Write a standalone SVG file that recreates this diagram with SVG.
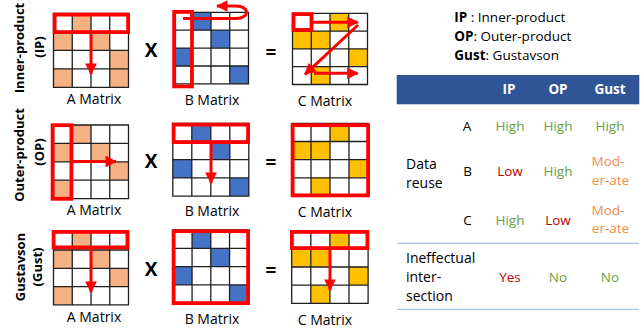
<svg xmlns="http://www.w3.org/2000/svg" xmlns:xlink="http://www.w3.org/1999/xlink" width="644" height="333" viewBox="0 0 644 333">
  <style>
    text { font-family: "Open Sans", "Liberation Sans", sans-serif; fill: #000; }
    .side { font-size: 13px; font-weight: bold; text-anchor: middle; }
    .op { font-size: 19px; font-weight: bold; text-anchor: middle; }
    .cap { font-size: 14px; text-anchor: middle; }
    .lg { font-size: 13.5px; }
    .b { font-weight: bold; }
    .th { font-size: 13.5px; font-weight: bold; fill: #fff; text-anchor: middle; }
    .td { font-size: 13.5px; text-anchor: middle; }
    .tl { font-size: 14px; }
    .hi { fill: #6a9e45; }
    .lo { fill: #c00000; }
    .md { fill: #f28c4c; }
    .bg { fill: #fff; }
    .o { fill: #f4b183; }
    .bl { fill: #4472c4; }
    .y { fill: #ffc000; }
    .grid { fill: none; stroke: #1f1f1f; stroke-width: 1.3; vector-effect: non-scaling-stroke; }
    .sel { fill: none; stroke: #ff0000; stroke-width: 3.8; }
    .arr { fill: none; stroke: #ff0000; stroke-width: 3; marker-end: url(#head); }
    .rule { stroke: #a9c5e3; stroke-width: 1.3; }
  </style>
  <defs>
    <marker id="head" viewBox="0 0 10 10" refX="9" refY="5" markerWidth="3.9" markerHeight="3.9" orient="auto">
      <path d="M0,0 L10,5 L0,10 Z" fill="#ff0000"/>
    </marker>
    <!-- 4x4 matrix in unit cells; scaled per placement -->
    <path id="gridlines" class="grid" d="M0,0H4V4H0Z M1,0V4 M2,0V4 M3,0V4 M0,1H4 M0,2H4 M0,3H4"/>
    <rect id="blank" class="bg" width="4" height="4"/>
    <g id="a-cells" class="o">
      <rect x="1" y="0" width="1" height="1"/>
      <rect x="0" y="1" width="1" height="1"/>
      <rect x="2" y="1" width="1" height="1"/>
      <rect x="3" y="2" width="1" height="1"/>
      <rect x="0" y="3" width="1" height="1"/>
    </g>
    <g id="b-cells" class="bl">
      <rect x="1" y="0" width="1" height="1"/>
      <rect x="2" y="1" width="1" height="1"/>
      <rect x="0" y="2" width="1" height="1"/>
      <rect x="3" y="3" width="1" height="1"/>
    </g>
    <g id="c-cells" class="y">
      <rect x="2" y="0" width="1" height="1"/>
      <rect x="0" y="1" width="1" height="1"/>
      <rect x="1" y="1" width="1" height="1"/>
      <rect x="3" y="2" width="1" height="1"/>
      <rect x="1" y="3" width="1" height="1"/>
    </g>
  </defs>

  <!-- row labels -->
  <g id="labels">
    <text class="side" transform="translate(24,48) rotate(-90)">Inner-product</text>
    <text class="side" transform="translate(43.5,47) rotate(-90)">(IP)</text>
    <text class="side" transform="translate(24,155) rotate(-90)">Outer-product</text>
    <text class="side" transform="translate(43.5,152) rotate(-90)">(OP)</text>
    <text class="side" transform="translate(24.5,267) rotate(-90)">Gustavson</text>
    <text class="side" transform="translate(41.5,267) rotate(-90)">(Gust)</text>
  </g>

  <!-- Inner-product row -->
  <g id="ip-a" transform="translate(53.5,13.3) scale(18.75,18.5)">
    <use href="#blank"/><use href="#a-cells"/>
    <rect class="o" x="3" y="3" width="1" height="1"/>
    <use href="#gridlines"/>
  </g>
  <g id="ip-b" transform="translate(173.5,12.3) scale(18.75,17.9)">
    <use href="#blank"/><use href="#b-cells"/><use href="#gridlines"/>
  </g>
  <g id="ip-c" transform="translate(292.5,13.3) scale(18.75,17.8)">
    <use href="#blank"/><use href="#c-cells"/><use href="#gridlines"/>
  </g>

  <!-- Outer-product row -->
  <g id="op-a" transform="translate(53.5,125) scale(18.75,18.4)">
    <use href="#blank"/><use href="#a-cells"/><use href="#gridlines"/>
  </g>
  <g id="op-b" transform="translate(172.8,123.3) scale(19,18.2)">
    <use href="#blank"/><use href="#b-cells"/><use href="#gridlines"/>
  </g>
  <g id="op-c" transform="translate(292,123.3) scale(19,18.2)">
    <use href="#blank"/><use href="#c-cells"/><use href="#gridlines"/>
  </g>

  <!-- Gustavson row -->
  <g id="gust-a" transform="translate(53.5,231.7) scale(18.75,18.3)">
    <use href="#blank"/><use href="#a-cells"/><use href="#gridlines"/>
  </g>
  <g id="gust-b" transform="translate(173.3,230) scale(18.75,18.3)">
    <use href="#blank"/><use href="#b-cells"/><use href="#gridlines"/>
  </g>
  <g id="gust-c" transform="translate(291.7,230.7) scale(19.1,18.15)">
    <use href="#blank"/><use href="#c-cells"/><use href="#gridlines"/>
  </g>

  <!-- operators and captions -->
  <g id="captions">
    <text class="op" x="151" y="57.3">X</text>
    <text class="op" x="271" y="58.6">=</text>
    <text class="op" x="151" y="168.3">X</text>
    <text class="op" x="271" y="169.4">=</text>
    <text class="op" x="151" y="276">X</text>
    <text class="op" x="271" y="277.2">=</text>
    <text class="cap" x="94" y="103.5">A Matrix</text>
    <text class="cap" x="212" y="104.5">B Matrix</text>
    <text class="cap" x="325" y="105.5">C Matrix</text>
    <text class="cap" x="94" y="215">A Matrix</text>
    <text class="cap" x="212" y="216">B Matrix</text>
    <text class="cap" x="325" y="217">C Matrix</text>
    <text class="cap" x="94" y="321.7">A Matrix</text>
    <text class="cap" x="212" y="324">B Matrix</text>
    <text class="cap" x="325" y="325">C Matrix</text>
  </g>

  <!-- selected rows / columns / blocks -->
  <g id="selections">
    <rect class="sel" x="54.6" y="14.6" width="73.5" height="17.5"/>
    <rect class="sel" x="174.2" y="11.9" width="17.8" height="74.5"/>
    <rect class="sel" x="293.5" y="14.1" width="18" height="15.8"/>
    <rect class="sel" x="52.6" y="125.2" width="18.8" height="73.6"/>
    <rect class="sel" x="173.6" y="124.6" width="74.5" height="17.5"/>
    <rect class="sel" x="292.6" y="125.2" width="75.5" height="70.2"/>
    <rect class="sel" x="53.6" y="231.9" width="73.8" height="15.5"/>
    <rect class="sel" x="173.6" y="231.2" width="74.5" height="71.9"/>
    <rect class="sel" x="291.9" y="231.9" width="75.5" height="16.2"/>
  </g>

  <!-- traversal arrows -->
  <g id="connectors">
    <path class="arr" d="M91,33 V74"/>
    <path class="arr" d="M183,18.5 H236 C250,18.5 250,6 236,6 H217"/>
    <path class="arr" d="M313,22.3 H357.7"/>
    <path class="arr" d="M358,25 L305,74.3"/>
    <path class="arr" d="M314,73.3 H357.7"/>
    <path class="arr" d="M72,161.5 H116"/>
    <path class="arr" d="M211,144 V183"/>
    <path class="arr" d="M91,249 V292"/>
    <path class="arr" d="M330,250 V290"/>
  </g>

  <!-- legend -->
  <g id="legend">
    <text class="lg" x="454.3" y="21.7"><tspan class="b">IP</tspan> : Inner-product</text>
    <text class="lg" x="454.3" y="41"><tspan class="b">OP</tspan>: Outer-product</text>
    <text class="lg" x="454.3" y="60"><tspan class="b">Gust</tspan>: Gustavson</text>
  </g>

  <!-- comparison table -->
  <g id="table">
    <rect x="396.7" y="75" width="242.6" height="29.3" fill="#2f5597"/>
    <text class="th" x="509" y="94.3">IP</text>
    <text class="th" x="558" y="94.3">OP</text>
    <text class="th" x="610" y="94.3">Gust</text>

    <text class="tl" x="406" y="169.3">Data</text>
    <text class="tl" x="406" y="187.7">reuse</text>

    <text class="td" x="467" y="130.7">A</text>
    <text class="td hi" x="510" y="130.7">High</text>
    <text class="td hi" x="558" y="130.7">High</text>
    <text class="td hi" x="610" y="130.7">High</text>

    <text class="td" x="467.5" y="175.7">B</text>
    <text class="td lo" x="510" y="175.7">Low</text>
    <text class="td hi" x="558" y="175.7">High</text>
    <text class="td md" x="608" y="166">Mod-</text>
    <text class="td md" x="610.5" y="185">er-ate</text>

    <text class="td" x="467.5" y="225">C</text>
    <text class="td hi" x="510" y="225">High</text>
    <text class="td lo" x="558" y="225">Low</text>
    <text class="td md" x="608" y="215">Mod-</text>
    <text class="td md" x="610.5" y="233.3">er-ate</text>

    <line class="rule" x1="397" y1="243.3" x2="639" y2="243.3"/>

    <text class="tl" x="406" y="263.3">Ineffectual</text>
    <text class="tl" x="406" y="281.7">inter-</text>
    <text class="tl" x="406" y="301">section</text>
    <text class="td lo" x="510" y="281.7">Yes</text>
    <text class="td hi" x="558" y="281.7">No</text>
    <text class="td hi" x="610" y="281.7">No</text>

    <line class="rule" x1="397" y1="309.3" x2="639" y2="309.3"/>
  </g>
</svg>
